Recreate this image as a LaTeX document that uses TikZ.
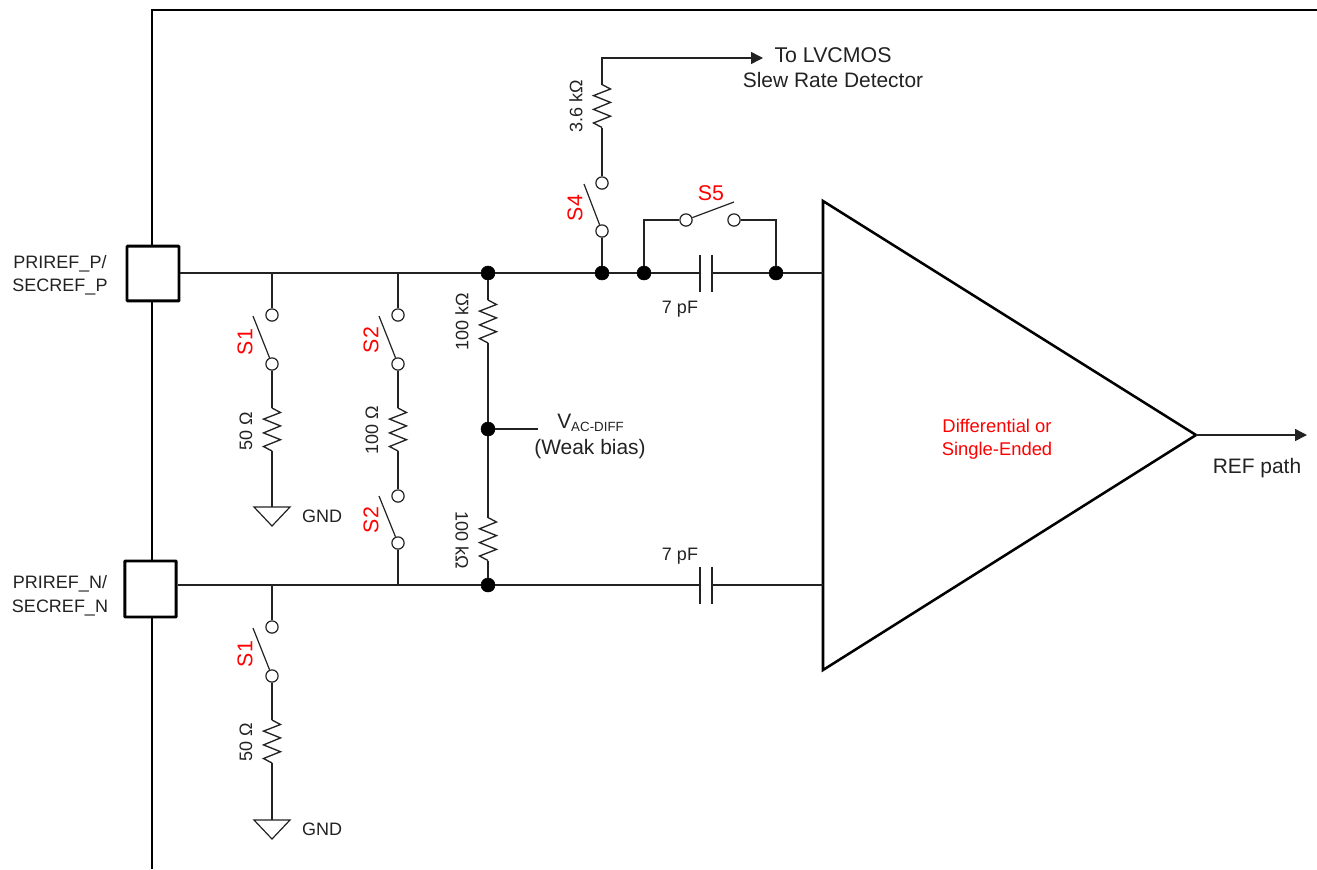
\documentclass[tikz,border=0pt]{standalone}
\usepackage{fontspec}
\setmainfont{Liberation Sans}
\usetikzlibrary{arrows.meta}
\newcommand{\fs}[1]{\fontsize{#1}{#1}\selectfont}
\definecolor{ink}{HTML}{222222}
\tikzset{
  x=0.75pt,y=-0.75pt,
  wire/.style={draw=ink,line width=1.1pt},
  heavy/.style={draw=black,line width=1.9pt},
  padbox/.style={draw=black,line width=2.2pt,fill=white,inner sep=0pt,rounded corners=0.5pt},
  dot/.style={circle,fill=black,draw=black,inner sep=0pt,minimum size=10.5pt},
  open/.style={circle,fill=white,draw=ink,line width=0.9pt,inner sep=0pt,minimum size=9.2pt},
  lbl/.style={text=ink,inner sep=0pt,font=\fs{13.5}},
  lblb/.style={text=ink,inner sep=0pt,font=\fs{15.7},align=center},
  red lbl/.style={text=red,inner sep=0pt,font=\fs{16}},
  tip/.style={-{Triangle[length=9pt,width=9pt]}},
  res/.pic={
    \coordinate (-t) at (0,-21.5);
    \coordinate (-b) at (0,21.5);
    \draw[wire,line width=1pt,line join=miter] (-t) -- (8.5,-17) -- (-8.5,-10.4) -- (8.5,-3.6) -- (-8.5,3.4) -- (8.5,10.2) -- (-8.5,17) -- (-b);
  },
  gnd/.pic={
    \coordinate (-t) at (0,0);
    \draw[draw=ink,line width=0.9pt,line join=miter] (-18,0) -- (18,0) -- (0,19) -- cycle;
  },
  cap/.pic={
    \coordinate (-l) at (-6,0);
    \coordinate (-r) at (6,0);
    \draw[wire] (-6,-18.5) -- (-6,18.5) (6,-18.5) -- (6,18.5);
  }
}
\begin{document}
\begin{tikzpicture}
\useasboundingbox (0,0) rectangle (1317,869);
% enclosure
\coordinate (wallB) at (152,869);
\coordinate (wallC) at (152,10);
\coordinate (wallR) at (1317,10);
\draw[heavy,line join=miter] (wallB) -- (wallC) -- (wallR);
% pads
\node[padbox,minimum width=39pt,minimum height=41pt] (padP) at (153,273.5) {};
\node[padbox,minimum width=38.5pt,minimum height=42pt] (padN) at (150.5,589) {};
\node[lbl] (tP1) at (60,264) {PRIREF\_P/};
\node[lbl] (tP2) at (60,287) {SECREF\_P};
\node[lbl] (tN1) at (60,584) {PRIREF\_N/};
\node[lbl] (tN2) at (60,608) {SECREF\_N};
% amplifier
\coordinate (triA) at (823,201);
\coordinate (triB) at (823,670);
\coordinate (triC) at (1196,435);
\coordinate (inP) at (823,273);
\coordinate (inN) at (823,585);
\draw[heavy,line join=miter] (triA) -- (triB) -- (triC) -- cycle;
\node[text=red,inner sep=0pt,font=\fs{13.8}] (tD1) at (997,426) {Differential or};
\node[text=red,inner sep=0pt,font=\fs{13.8}] (tD2) at (997,451) {Single-Ended};
\coordinate (out) at (1307,435);
\draw[wire,tip] (triC) -- (out);
\node[lblb] (tRef) at (1257,468) {REF path};
% junctions
\coordinate (tapS1) at (272,273);
\coordinate (tapS2) at (398,273);
\node[dot] (jP) at (488,273) {};
\node[dot] (jM) at (488,429) {};
\node[dot] (jN) at (488,585) {};
\node[dot] (j4) at (602,273) {};
\node[dot] (j5) at (644,273) {};
\node[dot] (j6) at (776,273) {};
\coordinate (tapS1n) at (272,585);
\coordinate (tapS2n) at (398,585);
% capacitors
\pic (c1) at (706,273) {cap};
\pic (c2) at (706,585) {cap};
\node[lbl] (tc1) at (680,309) {7 pF};
\node[lbl] (tc2) at (680,556) {7 pF};
% main wires
\draw[wire] (padP.east |- tapS1) -- (tapS1) -- (tapS2) -- (jP) -- (j4) -- (j5) -- (c1-l);
\draw[wire] (c1-r) -- (j6) -- (inP);
\draw[wire] (padN.east |- tapS1n) -- (tapS1n) -- (tapS2n) -- (jN) -- (c2-l);
\draw[wire] (c2-r) -- (inN);
% S1 upper branch
\node[open] (s1a) at (272,315) {};
\node[open] (s1b) at (272,364) {};
\coordinate (s1f) at (253,316);
\draw[wire,line width=0.9pt] (s1b) -- (s1f);
\pic (r1) at (272,429.5) {res};
\pic (g1) at (272,507) {gnd};
\draw[wire] (tapS1) -- (s1a);
\draw[wire] (s1b) -- (r1-t);
\draw[wire] (r1-b) -- (g1-t);
\node[red lbl,rotate=90] (ts1) at (245,342) {S1};
\node[lbl,rotate=90] (tr1) at (246,431) {50 Ω};
\node[lbl] (tg1) at (322,516) {GND};
% S2 branch
\node[open] (s2a) at (398,315) {};
\node[open] (s2b) at (398,364) {};
\coordinate (s2f) at (379,316);
\draw[wire,line width=0.9pt] (s2b) -- (s2f);
\pic (r2) at (398,429.5) {res};
\node[open] (s3a) at (398,496) {};
\node[open] (s3b) at (398,543) {};
\coordinate (s3f) at (379,496);
\draw[wire,line width=0.9pt] (s3b) -- (s3f);
\draw[wire] (tapS2) -- (s2a);
\draw[wire] (s2b) -- (r2-t);
\draw[wire] (r2-b) -- (s3a);
\draw[wire] (s3b) -- (tapS2n);
\node[red lbl,rotate=90] (ts2) at (371,340) {S2};
\node[red lbl,rotate=90] (ts3) at (371,520) {S2};
\node[lbl,rotate=90] (tr2) at (372,430) {100 Ω};
% bias divider
\pic (r3) at (488,321.5) {res};
\pic[rotate=180] (r4) at (488,539) {res};
\draw[wire] (jP) -- (r3-t);
\draw[wire] (r3-b) -- (jM);
\draw[wire] (jM) -- (r4-b);
\draw[wire] (r4-t) -- (jN);
\node[lbl,rotate=90] (tr3) at (462,322) {100 kΩ};
\node[lbl,rotate=-90] (tr4) at (462,540) {100 kΩ};
\coordinate (vEnd) at (538,429);
\draw[wire] (jM) -- (vEnd);
\node[text=ink,inner sep=0pt,anchor=base west,font=\fs{15.7}] (tV) at (557,428) {V\raisebox{-0.35ex}{\fs{10}AC-DIFF}};
\node[lblb] (tW) at (590,449) {(Weak bias)};
% S1 lower branch
\node[open] (s4a) at (272,627) {};
\node[open] (s4b) at (272,676) {};
\coordinate (s4f) at (253,628);
\draw[wire,line width=0.9pt] (s4b) -- (s4f);
\pic (r5) at (272,741.5) {res};
\pic (g2) at (272,820) {gnd};
\draw[wire] (tapS1n) -- (s4a);
\draw[wire] (s4b) -- (r5-t);
\draw[wire] (r5-b) -- (g2-t);
\node[red lbl,rotate=90] (ts4) at (245,654) {S1};
\node[lbl,rotate=90] (tr5) at (246,742) {50 Ω};
\node[lbl] (tg2) at (322,829) {GND};
% S4 branch
\node[open] (s5a) at (602,183) {};
\node[open] (s5b) at (602,231) {};
\coordinate (s5f) at (584,184);
\draw[wire,line width=0.9pt] (s5b) -- (s5f);
\pic (r6) at (602,106) {res};
\coordinate (corner) at (602,58);
\coordinate (arrowEnd) at (763,58);
\draw[wire] (j4) -- (s5b);
\draw[wire] (s5a) -- (r6-b);
\draw[wire,tip] (r6-t) -- (corner) -- (arrowEnd);
\node[red lbl,rotate=90] (ts5) at (575,208) {S4};
\node[lbl,rotate=90] (tr6) at (576,106) {3.6 kΩ};
\node[text=ink,inner sep=0pt,font=\fs{16}] (tTo) at (833,55) {To LVCMOS};
\node[lblb] (tSl) at (833,80) {Slew Rate Detector};
% S5 branch
\node[open] (s6a) at (686,220) {};
\node[open] (s6b) at (734,220) {};
\coordinate (s6f) at (734,202);
\coordinate (c5a) at (644,220);
\coordinate (c5b) at (776,220);
\draw[wire,line width=0.9pt] (s6a) -- (s6f);
\draw[wire] (j5) -- (c5a) -- (s6a);
\draw[wire] (s6b) -- (c5b) -- (j6);
\node[red lbl] (ts6) at (711,193) {S5};
\end{tikzpicture}
\end{document}
